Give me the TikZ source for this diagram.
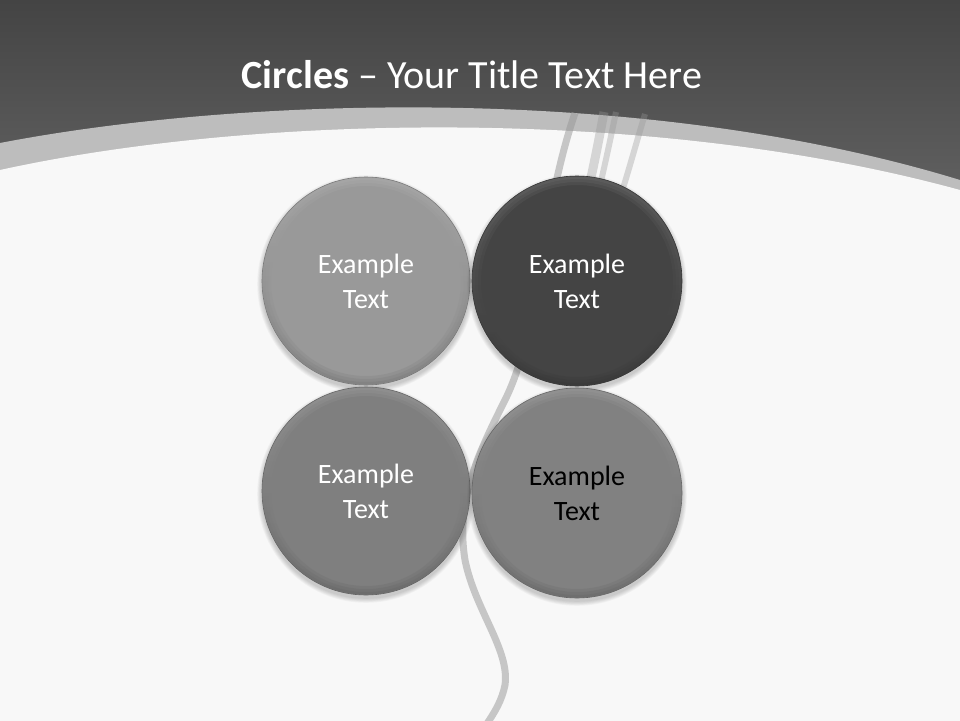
\documentclass[tikz,border=0pt]{standalone}
\usepackage{fontspec}
\setmainfont{Carlito}
\definecolor{bgtop}{HTML}{444444}
\definecolor{bgbot}{HTML}{616161}
\definecolor{bandgray}{HTML}{BDBDBD}
\definecolor{paper}{HTML}{F8F8F8}
\definecolor{streakgray}{HTML}{969696}
\definecolor{cA}{HTML}{999999}
\definecolor{cB}{HTML}{444444}
\definecolor{cC}{HTML}{7F7F7F}
\definecolor{cD}{HTML}{818181}
\tikzset{
  streak/.style={draw=streakgray, draw opacity=0.5},
  softstreak/.style={draw=streakgray, draw opacity=0.35},
  bubble/.style={circle, inner sep=0pt, align=center,
    font=\fontsize{28}{35}\selectfont},
  titletext/.style={text=white, font=\fontsize{40}{48}\selectfont, inner sep=0pt}
}
% name, x, y, r, fill colour, text colour
\newcommand{\mybubble}[6]{%
  \foreach \k in {1,...,6}
    \fill[black, opacity=0.03] (#2,#3+3) circle ({#4+\k*0.8});
  \node[bubble, fill=#5, text=#6, draw=#5!80!black, line width=0.6pt,
        minimum size={2*#4}] (#1) at (#2,#3) {Example\\Text};
  \shade[even odd rule, top color=#5!70!white, bottom color=#5!70!black, opacity=0.18]
    (#1.center) circle (#4-0.5) (#1.center) circle (#4-9);
  \shade[even odd rule, top color=#5!70!white, bottom color=#5!70!black, opacity=0.18]
    (#1.center) circle (#4-0.5) (#1.center) circle (#4-6);
  \shade[even odd rule, top color=#5!70!white, bottom color=#5!70!black, opacity=0.18]
    (#1.center) circle (#4-0.5) (#1.center) circle (#4-3);
}
\begin{document}
\begin{tikzpicture}[x=1pt,y=-1pt]
\useasboundingbox (0,0) rectangle (960,720);
% background
\shade[top color=bgtop, bottom color=bgbot] (0,0) rectangle (960,200);
\fill[bandgray] (0,143) .. controls (250,95) and (650,85) .. (960,180)
   -- (960,720) -- (0,720) -- cycle;
\fill[paper] (0,170) .. controls (250,115) and (650,105) .. (960,190)
   -- (960,720) -- (0,720) -- cycle;
% streaks
\draw[streak, line width=7pt] (575,113) .. controls (540,215) and (540,330) .. (505,400)
   .. controls (480,450) and (455,500) .. (465,560)
   .. controls (475,610) and (510,650) .. (505,685)
   .. controls (502,700) and (495,712) .. (486,725);
\draw[softstreak, line width=9pt] (604,112) .. controls (588,200) and (565,300) .. (530,355);
\draw[softstreak, line width=6pt] (616,112) .. controls (598,200) and (575,300) .. (540,350);
\draw[softstreak, line width=6pt] (645,114) .. controls (625,180) and (600,280) .. (560,340);
% title
\node[titletext, anchor=base] (title) at (472,88) {\textbf{Circles} – Your Title Text Here};
% circles
\mybubble{tl}{366}{281}{104}{cA}{white}
\mybubble{tr}{577}{281}{105}{cB}{white}
\mybubble{bl}{366}{491}{104}{cC}{white}
\mybubble{br}{577}{493}{105}{cD}{black}
\end{tikzpicture}
\end{document}
